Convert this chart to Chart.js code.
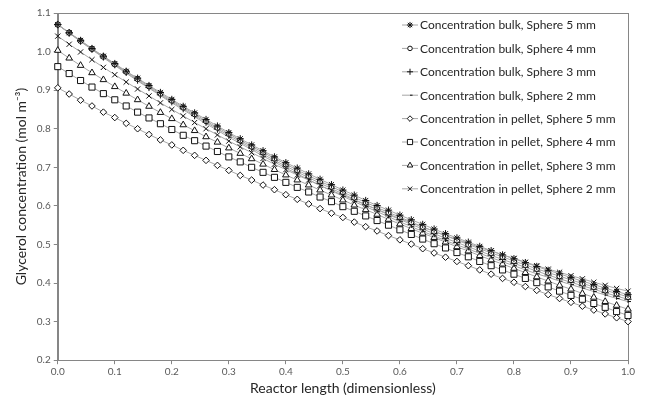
<!DOCTYPE html>
<html>
<head>
    <title>Glycerol concentration</title>
    <script src="https://cdn.jsdelivr.net/npm/chart.js@4.4.1/dist/chart.umd.min.js"></script>
    <style>
        body {
            margin: 0;
            padding: 0;
            background-color: #ffffff;
        }
        #chartBox {
            width: 645px;
            height: 398px;
        }
    </style>
</head>
<body>

<div id="chartBox">
    <canvas id="lineChart"></canvas>
</div>

<script>
// reactor length (dimensionless), one point every 0.02
var reactorLength = [0.00,0.02,0.04,0.06,0.08,0.10,0.12,0.14,0.16,0.18,0.20,0.22,0.24,0.26,0.28,0.30,0.32,0.34,0.36,0.38,0.40,
    0.42,0.44,0.46,0.48,0.50,0.52,0.54,0.56,0.58,0.60,0.62,0.64,0.66,0.68,0.70,0.72,0.74,0.76,0.78,0.80,
    0.82,0.84,0.86,0.88,0.90,0.92,0.94,0.96,0.98,1.00];

// bulk concentration
var bulk5mm = [1.070,1.049,1.029,1.008,0.988,0.969,0.949,0.931,0.912,0.894,0.876,0.858,0.841,0.824,0.807,0.790,0.774,0.758,0.743,0.727,0.712,
    0.698,0.683,0.669,0.655,0.641,0.628,0.614,0.601,0.589,0.576,0.564,0.552,0.540,0.528,0.517,0.506,0.495,0.484,0.473,0.463,
    0.453,0.443,0.433,0.424,0.414,0.405,0.396,0.387,0.378,0.370];
var bulk4mm = [1.070,1.049,1.028,1.007,0.987,0.967,0.948,0.929,0.910,0.891,0.873,0.855,0.838,0.820,0.803,0.787,0.770,0.754,0.739,0.723,0.708,
    0.693,0.678,0.664,0.650,0.636,0.622,0.609,0.596,0.583,0.571,0.558,0.546,0.534,0.523,0.511,0.500,0.489,0.478,0.468,0.457,
    0.447,0.437,0.427,0.418,0.408,0.399,0.390,0.381,0.373,0.364];
var bulk3mm = [1.070,1.048,1.027,1.006,0.986,0.966,0.946,0.926,0.907,0.888,0.870,0.852,0.834,0.817,0.799,0.783,0.766,0.750,0.734,0.718,0.703,
    0.688,0.673,0.659,0.645,0.631,0.617,0.603,0.590,0.577,0.565,0.552,0.540,0.528,0.516,0.505,0.494,0.483,0.472,0.461,0.451,
    0.441,0.431,0.421,0.411,0.402,0.393,0.384,0.375,0.366,0.358];
var bulk2mm = [1.070,1.048,1.026,1.005,0.984,0.964,0.944,0.924,0.905,0.886,0.867,0.849,0.831,0.813,0.796,0.778,0.762,0.746,0.729,0.714,0.698,
    0.683,0.668,0.653,0.639,0.625,0.611,0.598,0.585,0.572,0.559,0.546,0.534,0.522,0.510,0.499,0.488,0.477,0.466,0.455,0.445,
    0.434,0.424,0.415,0.405,0.396,0.387,0.378,0.369,0.360,0.352];

// concentration in pellet
var pellet5mm = [0.906,0.890,0.874,0.859,0.843,0.829,0.814,0.800,0.785,0.771,0.758,0.744,0.731,0.718,0.705,0.692,0.679,0.667,0.654,0.642,0.629,
    0.617,0.605,0.593,0.581,0.570,0.558,0.546,0.535,0.523,0.512,0.501,0.489,0.478,0.467,0.456,0.445,0.434,0.423,0.412,0.402,
    0.391,0.381,0.370,0.360,0.350,0.340,0.330,0.320,0.310,0.300];
var pellet4mm = [0.961,0.943,0.925,0.908,0.891,0.875,0.859,0.843,0.828,0.813,0.798,0.783,0.769,0.755,0.741,0.727,0.714,0.700,0.687,0.674,0.661,
    0.648,0.636,0.623,0.611,0.598,0.586,0.574,0.562,0.550,0.538,0.526,0.514,0.502,0.491,0.479,0.468,0.456,0.445,0.434,0.423,
    0.412,0.401,0.390,0.379,0.368,0.358,0.347,0.337,0.326,0.316];
var pellet3mm = [1.003,0.983,0.964,0.945,0.927,0.909,0.892,0.875,0.858,0.842,0.826,0.810,0.795,0.779,0.765,0.750,0.736,0.722,0.708,0.694,0.680,
    0.667,0.654,0.641,0.628,0.615,0.602,0.590,0.578,0.565,0.553,0.541,0.529,0.518,0.506,0.494,0.483,0.471,0.460,0.449,0.438,
    0.427,0.416,0.405,0.394,0.384,0.373,0.363,0.352,0.342,0.332];
var pellet2mm = [1.040,1.019,0.999,0.979,0.959,0.940,0.921,0.903,0.885,0.867,0.850,0.833,0.816,0.800,0.784,0.768,0.753,0.738,0.723,0.708,0.694,
    0.680,0.667,0.653,0.640,0.628,0.615,0.603,0.591,0.579,0.567,0.556,0.545,0.534,0.523,0.513,0.503,0.492,0.483,0.473,0.464,
    0.454,0.445,0.436,0.428,0.419,0.411,0.402,0.394,0.386,0.379];

var seriesNames = ['Concentration bulk, Sphere 5 mm', 'Concentration bulk, Sphere 4 mm',
    'Concentration bulk, Sphere 3 mm', 'Concentration bulk, Sphere 2 mm',
    'Concentration in pellet, Sphere 5 mm', 'Concentration in pellet, Sphere 4 mm',
    'Concentration in pellet, Sphere 3 mm', 'Concentration in pellet, Sphere 2 mm'];

var seriesValues = [bulk5mm, bulk4mm, bulk3mm, bulk2mm, pellet5mm, pellet4mm, pellet3mm, pellet2mm];

// marker look for each series
var markerStyle  = ['star', 'circle', 'cross', 'dash', 'rectRot', 'rect', 'triangle', 'crossRot'];
var markerRadius = [3.6, 2.7, 3.6, 3, 3.3, 4.3, 3.8, 3.7];

var fontName = 'Lato, "Liberation Sans", sans-serif';

function toPoints(values) {
    var pts = [];
    for (var i = 0; i < values.length; i++) {
        pts.push({ x: reactorLength[i], y: values[i] });
    }
    return pts;
}

var datasets = [];
for (var s = 0; s < seriesValues.length; s++) {
    datasets.push({
        label: seriesNames[s],
        data: toPoints(seriesValues[s]),
        borderColor: '#a6a6a6',
        borderWidth: 1,
        pointStyle: markerStyle[s],
        pointRadius: markerRadius[s],
        pointBorderColor: '#111111',
        pointBackgroundColor: '#ffffff',
        pointBorderWidth: 1,
        tension: 0,
        clip: false
    });
}

// box round the plot area and the legend inside it
var excelLook = {
    id: 'excelLook',
    beforeDatasetsDraw: function (chart) {
        var ctx = chart.ctx;
        var a = chart.chartArea;
        ctx.save();
        ctx.strokeStyle = '#868686';
        ctx.lineWidth = 1;
        ctx.strokeRect(Math.round(a.left) + 0.5, Math.round(a.top) + 0.5,
            Math.round(a.right - a.left), Math.round(a.bottom - a.top));
        ctx.restore();
    },
    afterDatasetsDraw: function (chart) {
        var ctx = chart.ctx;
        var a = chart.chartArea;
        var x0 = a.right - 226;
        var top = a.top + 11.5;
        var gap = 23.4;
        ctx.save();
        ctx.font = '12px ' + fontName;
        ctx.textBaseline = 'middle';
        ctx.textAlign = 'left';
        for (var i = 0; i < seriesNames.length; i++) {
            var y = top + i * gap;
            ctx.strokeStyle = '#a6a6a6';
            ctx.lineWidth = 1;
            ctx.beginPath();
            ctx.moveTo(x0, y + 0.5);
            ctx.lineTo(x0 + 16, y + 0.5);
            ctx.stroke();
            ctx.strokeStyle = '#111111';
            ctx.fillStyle = '#ffffff';
            Chart.helpers.drawPoint(ctx, {
                pointStyle: markerStyle[i],
                radius: markerRadius[i] * 0.85,
                rotation: 0,
                borderWidth: 1
            }, x0 + 8, y + 0.5);
            ctx.fillStyle = '#262626';
            ctx.fillText(seriesNames[i], x0 + 18, y + 1);
        }
        ctx.restore();
    }
};

var ctx = document.getElementById('lineChart').getContext('2d');
var chart = new Chart(ctx, {
    type: 'line',
    data: { datasets: datasets },
    options: {
        responsive: true,
        maintainAspectRatio: false,
        devicePixelRatio: 1,
        animation: false,
        layout: {
            padding: { top: 13, right: 17, left: 13, bottom: 0 }
        },
        plugins: {
            legend: { display: false },
            tooltip: { enabled: false }
        },
        scales: {
            x: {
                type: 'linear',
                min: 0,
                max: 1,
                ticks: {
                    stepSize: 0.1,
                    color: '#595959',
                    font: { family: fontName, size: 10 },
                    padding: 2,
                    maxRotation: 0,
                    callback: function (v) { return v.toFixed(1); }
                },
                grid: {
                    drawOnChartArea: false,
                    drawTicks: true,
                    tickLength: 4,
                    color: '#868686'
                },
                border: { color: '#868686' },
                title: {
                    display: true,
                    text: 'Reactor length (dimensionless)',
                    color: '#262626',
                    font: { family: fontName, size: 14 },
                    padding: { top: 0, bottom: 1 }
                }
            },
            y: {
                min: 0.2,
                max: 1.1,
                ticks: {
                    stepSize: 0.1,
                    color: '#595959',
                    font: { family: fontName, size: 10 },
                    padding: 3,
                    callback: function (v) { return v.toFixed(1); }
                },
                grid: {
                    drawOnChartArea: false,
                    drawTicks: true,
                    tickLength: 4,
                    color: '#868686'
                },
                border: { color: '#868686' },
                title: {
                    display: true,
                    text: 'Glycerol concentration (mol m\u207B\u00B3)',
                    color: '#262626',
                    font: { family: fontName, size: 14 },
                    padding: { top: 0, bottom: 4 }
                }
            }
        }
    },
    plugins: [excelLook]
});
</script>
</body>
</html>
